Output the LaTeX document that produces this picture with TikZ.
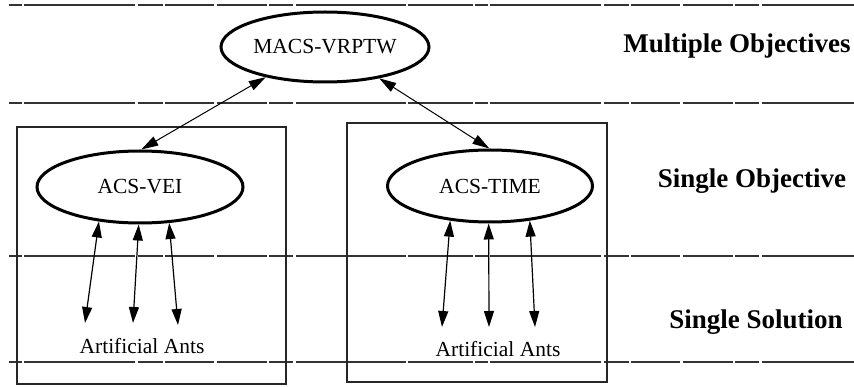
\documentclass[tikz,border=0pt]{standalone}
\usepackage{fontspec}
\setmainfont{Liberation Serif}
\usetikzlibrary{shapes.geometric,arrows.meta}
\begin{document}
\begin{tikzpicture}[x=1pt,y=-1pt,
  level/.style={draw=black!80,line width=1.2pt,dash pattern=on 13pt off 2pt on 111pt off 3pt on 25pt off 2pt on 49pt off 3pt on 50pt off 2pt on 24pt off 3pt on 110pt off 2pt on 65pt off 2pt},
  frame/.style={draw=black!85,line width=1.2pt},
  oval/.style={ellipse,draw,line width=3pt,inner sep=0pt,font=\fontsize{21.5}{24}\selectfont},
  lbl/.style={font=\fontsize{27}{30}\selectfont\bfseries,anchor=base},
  txt/.style={font=\fontsize{21.5}{24}\selectfont,anchor=base},
  link/.style={line width=1pt,{Triangle[length=17pt,width=10pt]}-{Triangle[length=17pt,width=10pt]}},
  ant/.style={line width=1.2pt,{Triangle[length=16pt,width=10pt]}-{Triangle[length=16pt,width=10pt]}}]
\useasboundingbox (0,0) rectangle (854,387);
% level lines
\draw[level] (9,5) -- (854,5);
\draw[level] (9,103) -- (854,103);
\draw[level] (9,256) -- (854,256);
\draw[level] (9,362) -- (854,362);
% boxes
\draw[frame] (17,127) rectangle (286,384);
\draw[frame] (347,123) rectangle (607,382);
% ellipses
\node[oval,minimum width=208pt,minimum height=70pt] (macs) at (325,47) {MACS-VRPTW};
\node[oval,minimum width=206pt,minimum height=72pt] (vei) at (140,187) {ACS-VEI};
\node[oval,minimum width=205pt,minimum height=72pt] (time) at (490,186) {ACS-TIME};
% labels
\node[lbl] (l1) at (737,53) {Multiple Objectives};
\node[lbl] (l2) at (752,188) {Single Objective};
\node[lbl] (l3) at (756,328) {Single Solution};
\node[txt] (antsA) at (142,353) {Artificial Ants};
\node[txt] (antsB) at (498,356) {Artificial Ants};
% connectors
\draw[link] (macs.207) -- (vei.88);
\draw[link] (macs.330) -- (time.91);
\coordinate (a1) at (85,323);
\coordinate (a2) at (133,323);
\coordinate (a3) at (178,325);
\coordinate (b1) at (442,327);
\coordinate (b2) at (489,327);
\coordinate (b3) at (535,327);
\draw[ant] (vei.220) -- (a1);
\draw[ant] (vei.268) -- (a2);
\draw[ant] (vei.309) -- (a3);
\draw[ant] (time.221) -- (b1);
\draw[ant] (time.268) -- (b2);
\draw[ant] (time.319) -- (b3);
\end{tikzpicture}
\end{document}
